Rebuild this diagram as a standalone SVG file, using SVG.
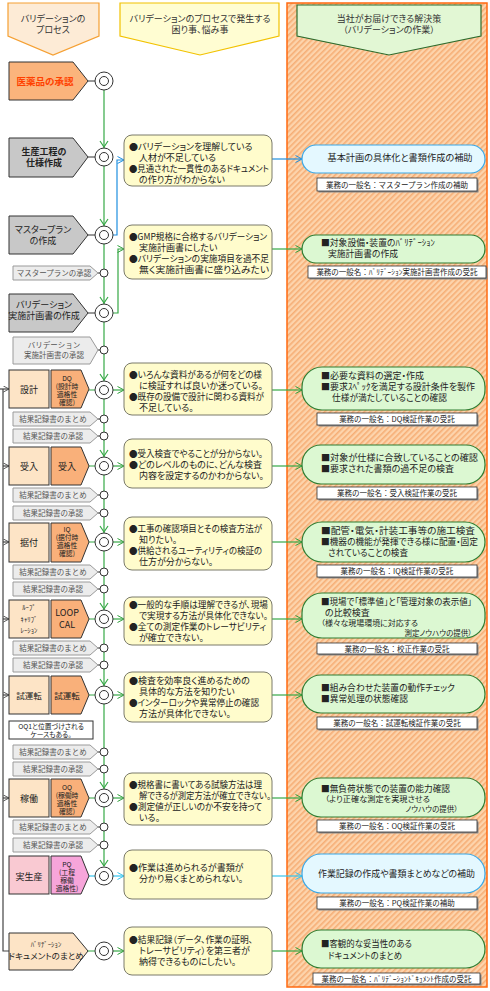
<svg xmlns="http://www.w3.org/2000/svg" width="490" height="991" viewBox="0 0 490 991">
<defs>
<pattern id="hatch" width="4" height="4" patternUnits="userSpaceOnUse" patternTransform="rotate(45)">
<rect width="4" height="4" fill="#fdd4ac"/>
<rect width="1.6" height="4" fill="#f6ae76"/>
</pattern>
<marker id="ag" viewBox="0 0 8 8" refX="7.5" refY="4" markerWidth="8" markerHeight="8" markerUnits="userSpaceOnUse" orient="auto"><path d="M1,0.5 L7.5,4 L1,7.5" fill="none" stroke="#2f9e3a" stroke-width="1"/></marker>
<marker id="ab" viewBox="0 0 8 8" refX="7.5" refY="4" markerWidth="8" markerHeight="8" markerUnits="userSpaceOnUse" orient="auto"><path d="M1,0.5 L7.5,4 L1,7.5" fill="none" stroke="#1e8fe0" stroke-width="1"/></marker>
<marker id="ac" viewBox="0 0 8 8" refX="7.5" refY="4" markerWidth="8" markerHeight="8" markerUnits="userSpaceOnUse" orient="auto"><path d="M1,0.5 L7.5,4 L1,7.5" fill="none" stroke="#33c4ee" stroke-width="1"/></marker>
<marker id="ak" viewBox="0 0 8 8" refX="7.5" refY="4" markerWidth="7" markerHeight="7" markerUnits="userSpaceOnUse" orient="auto"><path d="M1,0.5 L7.5,4 L1,7.5" fill="none" stroke="#444" stroke-width="1"/></marker>
</defs>
<style>
text{font-family:"Noto Sans CJK JP","Noto Sans CJK SC",sans-serif;fill:#222;}
.t{font-size:9px;font-feature-settings:"palt" 1;}
.h{font-size:9px;font-feature-settings:"palt" 1;text-anchor:middle;fill:#333}
.c{text-anchor:middle}
.n{font-size:9px;font-feature-settings:"palt" 1;text-anchor:middle}
.q{font-size:6.8px;font-feature-settings:"palt" 1;text-anchor:middle}
.s{font-size:7.5px;fill:#555;text-anchor:middle}
.lb{font-size:7.5px;text-anchor:middle}
.sm{font-size:7.5px;font-feature-settings:"palt" 1}
.pn{stroke:#333;stroke-width:1}
.gray{fill:#c8c8c8}
.peach{fill:#fde4c6}
.orange{fill:#f9b07a}
.appr{fill:#ececec;stroke:#9a9a9a;stroke-width:1}
.yb{fill:#fffccc;stroke:#7a7a6a;stroke-width:1}
.gs{fill:#dcf8d2;stroke:#2e7d32;stroke-width:1.2}
.bs{fill:#e4f8ff;stroke:#3aa8e8;stroke-width:1.2}
.lab{fill:#fff;stroke:#333;stroke-width:0.8}
.shd{fill:#8a8a8a}
.ring{fill:#fff;stroke:#333;stroke-width:1}
.in{fill:none;stroke:#333;stroke-width:1}
.gl{fill:none;stroke:#35a845;stroke-width:1.2}
.bl{fill:none;stroke:#1e8fe0;stroke-width:1.2}
.cl{fill:none;stroke:#33c4ee;stroke-width:1.2}
.dl{fill:none;stroke:#333;stroke-width:1}
.kl{fill:none;stroke:#444;stroke-width:1.2}
</style>

<rect id="panel" x="287" y="3" width="200" height="984" fill="url(#hatch)" stroke="#ff6a10" stroke-width="1.5"/>

<g id="hdr-process">
<polygon points="8,3 99,3 99,36 53,55 8,36" fill="#fdebd6" stroke="#f5a033" stroke-width="1.2"/>
<text class="h" x="53" y="22">バリデーションの</text>
<text class="h" x="53" y="33">プロセス</text>
</g>
<g id="hdr-problems">
<polygon points="120,3 279,3 279,36 200,55 120,36" fill="#fffdd2" stroke="#f2c200" stroke-width="1.2"/>
<text class="h" x="200" y="22">バリデーションのプロセスで発生する</text>
<text class="h" x="200" y="33">困り事、悩み事</text>
</g>
<g id="hdr-solutions">
<polygon points="297,5 481,5 481,36 389,55 297,36" fill="#e2f7d4" stroke="#2d6b2d" stroke-width="1.2"/>
<text class="h" x="389" y="21.5">当社がお届けできる解決策</text>
<text class="h" x="389" y="32.5">（バリデーションの作業）</text>
</g>

<g id="connectors">
<path class="gl" d="M104,90 V866"/>
<g class="gl">
<polyline points="100,141 104,147 108,141"/>
<polyline points="100,219 104,225 108,219"/>
<polyline points="100,297 104,303 108,297"/>
<polyline points="100,374 104,380 108,374"/>
<polyline points="100,450 104,456 108,450"/>
<polyline points="100,526 104,532 108,526"/>
<polyline points="100,603 104,609 108,603"/>
<polyline points="100,679 104,685 108,679"/>
<polyline points="100,782 104,788 108,782"/>
<polyline points="100,860 104,866 108,860"/>
</g>
<path class="dl" d="M88,81 H95 M88,157 H95 M88,235 H95 M88,313 H95"/>
<path class="gl" d="M89,390 H95 M89,466 H95 M89,542 H95 M89,619 H95 M89,695 H95 M89,798 H95 M88,951 H95"/>
<path class="cl" d="M89,876 H95"/>
<path class="dl" d="M98,273 H100 M98,350 H100 M98,419 H100 M98,436 H100 M98,495 H100 M98,513 H100 M98,572 H100 M98,589 H100 M98,648 H100 M98,665 H100 M98,752 H100 M98,769 H100 M98,827 H100 M98,845 H100"/>
<path class="bl" d="M113,235 H117 V160 H124" marker-end="url(#ab)"/>
<path class="gl" d="M113,313 H118 V249 H124" marker-end="url(#ag)"/>
<path class="gl" d="M113,390 H124" marker-end="url(#ag)"/>
<path class="gl" d="M113,466 H124" marker-end="url(#ag)"/>
<path class="gl" d="M113,542 H124" marker-end="url(#ag)"/>
<path class="gl" d="M113,619 H124" marker-end="url(#ag)"/>
<path class="gl" d="M113,695 H124" marker-end="url(#ag)"/>
<path class="gl" d="M113,798 H124" marker-end="url(#ag)"/>
<path class="cl" d="M113,876 H124" marker-end="url(#ac)"/>
<path class="gl" d="M113,951 H124" marker-end="url(#ag)"/>
<path class="bl" d="M272,159 H302" marker-end="url(#ab)"/>
<path class="gl" d="M272,249 H302" marker-end="url(#ag)"/>
<path class="gl" d="M272,390 H302" marker-end="url(#ag)"/>
<path class="gl" d="M272,466 H302" marker-end="url(#ag)"/>
<path class="gl" d="M272,542 H302" marker-end="url(#ag)"/>
<path class="gl" d="M272,619 H302" marker-end="url(#ag)"/>
<path class="gl" d="M272,695 H302" marker-end="url(#ag)"/>
<path class="gl" d="M272,798 H302" marker-end="url(#ag)"/>
<path class="cl" d="M272,876 H302" marker-end="url(#ac)"/>
<path class="gl" d="M272,951 H302" marker-end="url(#ag)"/>
<path class="kl" d="M3,389 V951 H9"/>
<path class="kl" d="M0,389 H9" marker-end="url(#ak)"/>
<path class="kl" d="M3,466 H9" marker-end="url(#ak)"/>
<path class="kl" d="M3,542 H9" marker-end="url(#ak)"/>
<path class="kl" d="M3,619 H9" marker-end="url(#ak)"/>
<path class="kl" d="M3,695 H9" marker-end="url(#ak)"/>
<path class="kl" d="M3,798 H9" marker-end="url(#ak)"/>
</g>

<g id="n-approval">
<polygon class="pn" points="9,62 73,62 88,81 73,100 9,100" fill="#fbb47c"/>
<text x="45" y="84.5" class="n" style="fill:#ff4000;font-weight:700;font-size:9.5px">医薬品の承認</text>
<circle class="ring" cx="104" cy="81" r="9"/><circle class="in" cx="104" cy="81" r="4.5"/>
</g>
<g id="n-spec">
<polygon class="pn gray" points="9,138 73,138 88,157 73,177 9,177"/>
<text x="44" y="155" class="n" style="font-weight:700">生産工程の</text>
<text x="44" y="166" class="n" style="font-weight:700">仕様作成</text>
<circle class="ring" cx="104" cy="157" r="9"/><circle class="in" cx="104" cy="157" r="4.5"/>
</g>
<g id="n-master">
<polygon class="pn gray" points="9,216 73,216 88,235 73,254 9,254"/>
<text x="43" y="233" class="n">マスタープラン</text>
<text x="43" y="244" class="n">の作成</text>
<circle class="ring" cx="104" cy="235" r="9"/><circle class="in" cx="104" cy="235" r="4.5"/>
</g>
<g id="n-master-ok">
<polygon class="appr" points="13,266 90,266 98,273 90,280 13,280"/>
<text x="54" y="276" class="s">マスタープランの承認</text>
<circle class="ring" cx="104" cy="273" r="4"/>
</g>
<g id="n-vplan">
<polygon class="pn gray" points="9,294 73,294 88,313 73,332 9,332"/>
<text x="44" y="307.5" class="n">バリデーション</text>
<text x="44" y="318.5" class="n">実施計画書の作成</text>
<circle class="ring" cx="104" cy="313" r="9"/><circle class="in" cx="104" cy="313" r="4.5"/>
</g>
<g id="n-vplan-ok">
<polygon class="appr" points="13,337 90,337 98,350 90,364 13,364"/>
<text x="54" y="348" class="s">バリデーション</text>
<text x="54" y="358" class="s">実施計画書の承認</text>
<circle class="ring" cx="104" cy="350" r="4"/>
</g>

<g id="n-dq">
<rect class="pn peach" x="9" y="370" width="40" height="38"/>
<text x="29" y="393" class="n">設計</text>
<polygon class="pn orange" points="51,370 81,370 89,389 81,408 51,408"/>
<text x="67" y="380.5" class="q">DQ</text>
<text x="67" y="388.5" class="q">(設計時</text>
<text x="67" y="396.5" class="q">適格性</text>
<text x="67" y="404.5" class="q">確認)</text>
<circle class="ring" cx="104" cy="390" r="9"/><circle class="in" cx="104" cy="390" r="4.5"/>
</g>
<g id="n-dq-sum"><polygon class="appr" points="13,412 90,412 98,419 90,426 13,426"/><text x="53" y="422" class="s">結果記録書のまとめ</text><circle class="ring" cx="104" cy="419" r="4"/></g>
<g id="n-dq-ok"><polygon class="appr" points="13,429 90,429 98,436 90,443 13,443"/><text x="53" y="439" class="s">結果記録書の承認</text><circle class="ring" cx="104" cy="436" r="4"/></g>

<g id="n-rcv">
<rect class="pn peach" x="9" y="447" width="40" height="38"/>
<text x="29" y="469.5" class="n">受入</text>
<polygon class="pn orange" points="51,447 81,447 89,466 81,485 51,485"/>
<text x="67" y="469.5" class="n">受入</text>
<circle class="ring" cx="104" cy="466" r="9"/><circle class="in" cx="104" cy="466" r="4.5"/>
</g>
<g id="n-rcv-sum"><polygon class="appr" points="13,488 90,488 98,495 90,502 13,502"/><text x="53" y="498" class="s">結果記録書のまとめ</text><circle class="ring" cx="104" cy="495" r="4"/></g>
<g id="n-rcv-ok"><polygon class="appr" points="13,506 90,506 98,513 90,520 13,520"/><text x="53" y="516" class="s">結果記録書の承認</text><circle class="ring" cx="104" cy="513" r="4"/></g>

<g id="n-iq">
<rect class="pn peach" x="9" y="523" width="40" height="39"/>
<text x="29" y="546" class="n">据付</text>
<polygon class="pn orange" points="51,523 81,523 89,542 81,562 51,562"/>
<text x="67" y="531.5" class="q">IQ</text>
<text x="67" y="539.5" class="q">(据付時</text>
<text x="67" y="547.5" class="q">適格性</text>
<text x="67" y="555.5" class="q">確認)</text>
<circle class="ring" cx="104" cy="542" r="9"/><circle class="in" cx="104" cy="542" r="4.5"/>
</g>
<g id="n-iq-sum"><polygon class="appr" points="13,565 90,565 98,572 90,579 13,579"/><text x="53" y="575" class="s">結果記録書のまとめ</text><circle class="ring" cx="104" cy="572" r="4"/></g>
<g id="n-iq-ok"><polygon class="appr" points="13,582 90,582 98,589 90,596 13,596"/><text x="53" y="592" class="s">結果記録書の承認</text><circle class="ring" cx="104" cy="589" r="4"/></g>

<g id="n-loop">
<rect class="pn peach" x="9" y="600" width="40" height="38"/>
<text x="29" y="610" class="q">ﾙｰﾌﾟ</text>
<text x="29" y="621.5" class="q">ｷｬﾘﾌﾞ</text>
<text x="29" y="633" class="q">ﾚｰｼｮﾝ</text>
<polygon class="pn orange" points="51,600 81,600 89,619 81,638 51,638"/>
<text x="67" y="616" class="n">LOOP</text>
<text x="67" y="627.5" class="n">CAL</text>
<circle class="ring" cx="104" cy="619" r="9"/><circle class="in" cx="104" cy="619" r="4.5"/>
</g>
<g id="n-loop-sum"><polygon class="appr" points="13,641 90,641 98,648 90,655 13,655"/><text x="53" y="651" class="s">結果記録書のまとめ</text><circle class="ring" cx="104" cy="648" r="4"/></g>
<g id="n-loop-ok"><polygon class="appr" points="13,658 90,658 98,665 90,672 13,672"/><text x="53" y="668" class="s">結果記録書の承認</text><circle class="ring" cx="104" cy="665" r="4"/></g>

<g id="n-trial">
<rect class="pn peach" x="9" y="676" width="40" height="38"/>
<text x="29" y="698.5" class="n" style="font-size:8.5px">試運転</text>
<polygon class="pn orange" points="51,676 81,676 89,695 81,714 51,714"/>
<text x="67" y="698.5" class="n" style="font-size:8.5px">試運転</text>
<circle class="ring" cx="104" cy="695" r="9"/><circle class="in" cx="104" cy="695" r="4.5"/>
</g>
<g id="n-oq1note">
<rect x="9" y="721" width="84" height="18" fill="#fff" stroke="#333" stroke-width="1"/>
<text x="51" y="729" class="q">OQ1と位置づけされる</text>
<text x="51" y="737" class="q">ケースもある。</text>
</g>
<g id="n-trial-sum"><polygon class="appr" points="13,745 90,745 98,752 90,759 13,759"/><text x="53" y="755" class="s">結果記録書のまとめ</text><circle class="ring" cx="104" cy="752" r="4"/></g>
<g id="n-trial-ok"><polygon class="appr" points="13,762 90,762 98,769 90,776 13,776"/><text x="53" y="772" class="s">結果記録書の承認</text><circle class="ring" cx="104" cy="769" r="4"/></g>

<g id="n-oq">
<rect class="pn peach" x="9" y="779" width="40" height="38"/>
<text x="29" y="801.5" class="n">稼働</text>
<polygon class="pn orange" points="51,779 81,779 89,798 81,817 51,817"/>
<text x="67" y="789.5" class="q">OQ</text>
<text x="67" y="797.5" class="q">(稼働時</text>
<text x="67" y="805.5" class="q">適格性</text>
<text x="67" y="813.5" class="q">確認)</text>
<circle class="ring" cx="104" cy="798" r="9"/><circle class="in" cx="104" cy="798" r="4.5"/>
</g>
<g id="n-oq-sum"><polygon class="appr" points="13,820 90,820 98,827 90,834 13,834"/><text x="53" y="830" class="s">結果記録書のまとめ</text><circle class="ring" cx="104" cy="827" r="4"/></g>
<g id="n-oq-ok"><polygon class="appr" points="13,838 90,838 98,845 90,852 13,852"/><text x="53" y="848" class="s">結果記録書の承認</text><circle class="ring" cx="104" cy="845" r="4"/></g>

<g id="n-pq">
<rect class="pn" x="9" y="856" width="40" height="38" fill="#f9c9d2"/>
<text x="29" y="879.5" class="n">実生産</text>
<polygon class="pn" points="51,856 81,856 89,876 81,894 51,894" fill="#f7a5da"/>
<text x="67" y="866.5" class="q">PQ</text>
<text x="67" y="874.5" class="q">(工程</text>
<text x="67" y="882.5" class="q">稼働</text>
<text x="67" y="890.5" class="q">適格性)</text>
<circle class="ring" cx="104" cy="876" r="9"/><circle class="in" cx="104" cy="876" r="4.5"/>
</g>

<g id="n-vdoc">
<polygon class="pn peach" points="9,933 73,933 88,951 73,970 9,970"/>
<text x="46" y="947" class="q">ﾊﾞﾘﾃﾞｰｼｮﾝ</text>
<text x="46" y="959" class="n" style="font-size:8.5px">ドキュメントのまとめ</text>
<circle class="ring" cx="104" cy="951" r="9"/><circle class="in" cx="104" cy="951" r="4.5"/>
</g>

<g id="p-master">
<rect class="yb" x="124" y="135" width="148" height="51" rx="8"/>
<text class="t" x="129" y="149.5">●バリデーションを理解している</text>
<text class="t" x="139" y="160.5">人材が不足している</text>
<text class="t" x="129" y="171.5" textLength="140" lengthAdjust="spacingAndGlyphs">●見通された一貫性のあるドキュメント</text>
<text class="t" x="139" y="182.5">の作り方がわからない</text>
</g>
<g id="p-vplan">
<rect class="yb" x="124" y="225" width="148" height="54" rx="8"/>
<text class="t" x="129" y="240" textLength="138" lengthAdjust="spacingAndGlyphs">●GMP規格に合格するバリデーション</text>
<text class="t" x="139" y="251">実施計画書にしたい</text>
<text class="t" x="129" y="262" textLength="140" lengthAdjust="spacingAndGlyphs">●バリデーションの実施項目を過不足</text>
<text class="t" x="139" y="273" textLength="130" lengthAdjust="spacingAndGlyphs">無く実施計画書に盛り込みたい</text>
</g>
<g id="p-dq">
<rect class="yb" x="124" y="363" width="148" height="52" rx="8"/>
<text class="t" x="129" y="378" textLength="133" lengthAdjust="spacingAndGlyphs">●いろんな資料があるが何をどの様</text>
<text class="t" x="139" y="389" textLength="124" lengthAdjust="spacingAndGlyphs">に検証すれば良いか迷っている。</text>
<text class="t" x="129" y="400" textLength="135" lengthAdjust="spacingAndGlyphs">●既存の設備で設計に関わる資料が</text>
<text class="t" x="139" y="411">不足している。</text>
</g>
<g id="p-rcv">
<rect class="yb" x="124" y="439" width="148" height="49" rx="8"/>
<text class="t" x="129" y="456.5" textLength="134" lengthAdjust="spacingAndGlyphs">●受入検査でやることが分からない。</text>
<text class="t" x="129" y="467.5" textLength="133" lengthAdjust="spacingAndGlyphs">●どのレベルのものに、どんな検査</text>
<text class="t" x="139" y="478.5" textLength="125" lengthAdjust="spacingAndGlyphs">内容を設定するのかわからない。</text>
</g>
<g id="p-iq">
<rect class="yb" x="124" y="517" width="148" height="53" rx="8"/>
<text class="t" x="129" y="531.5" textLength="133" lengthAdjust="spacingAndGlyphs">●工事の確認項目とその検査方法が</text>
<text class="t" x="139" y="542.5">知りたい。</text>
<text class="t" x="129" y="553.5" textLength="133" lengthAdjust="spacingAndGlyphs">●供給されるユーティリティの検証の</text>
<text class="t" x="139" y="564.5">仕方が分からない。</text>
</g>
<g id="p-loop">
<rect class="yb" x="124" y="597" width="148" height="48" rx="8"/>
<text class="t" x="129" y="607.5" textLength="139" lengthAdjust="spacingAndGlyphs">●一般的な手順は理解できるが、現場</text>
<text class="t" x="139" y="618.5" textLength="129" lengthAdjust="spacingAndGlyphs">で実現する方法が具体化できない。</text>
<text class="t" x="129" y="629.5" textLength="137" lengthAdjust="spacingAndGlyphs">●全ての測定作業のトレーサビリティ</text>
<text class="t" x="139" y="640.5">が確立できない。</text>
</g>
<g id="p-trial">
<rect class="yb" x="124" y="672" width="148" height="50" rx="8"/>
<text class="t" x="129" y="683.5">●検査を効率良く進めるための</text>
<text class="t" x="139" y="694.5">具体的な方法を知りたい</text>
<text class="t" x="129" y="705.5" textLength="130" lengthAdjust="spacingAndGlyphs">●インターロックや異常停止の確認</text>
<text class="t" x="139" y="716.5">方法が具体化できない。</text>
</g>
<g id="p-oq">
<rect class="yb" x="124" y="773" width="148" height="52" rx="8"/>
<text class="t" x="129" y="787.5" textLength="133" lengthAdjust="spacingAndGlyphs">●規格書に書いてある試験方法は理</text>
<text class="t" x="139" y="798.5" textLength="132" lengthAdjust="spacingAndGlyphs">解できるが測定方法が確立できない。</text>
<text class="t" x="129" y="809.5" textLength="133" lengthAdjust="spacingAndGlyphs">●測定値が正しいのか不安を持って</text>
<text class="t" x="139" y="820.5">いる。</text>
</g>
<g id="p-pq">
<rect class="yb" x="124" y="850" width="148" height="49" rx="8"/>
<text class="t" x="129" y="870.5">●作業は進められるが書類が</text>
<text class="t" x="139" y="881.5">分かり易くまとめられない。</text>
</g>
<g id="p-vdoc">
<rect class="yb" x="124" y="927" width="148" height="48" rx="8"/>
<text class="t" x="129" y="942.5" textLength="124" lengthAdjust="spacingAndGlyphs">●結果記録（データ、作業の証明、</text>
<text class="t" x="139" y="953.5">トレーサビリティ）を第三者が</text>
<text class="t" x="139" y="964.5">納得できるものにしたい。</text>
</g>

<g id="s-master">
<rect class="bs" x="302" y="145" width="183" height="28" rx="14"/>
<text class="t c" x="400" y="160.5" textLength="145" lengthAdjust="spacingAndGlyphs">基本計画の具体化と書類作成の補助</text>
<rect class="shd" x="318.5" y="179.5" width="160" height="13"/>
<rect class="lab" x="317" y="178" width="160" height="13"/>
<text class="lb" x="397" y="187.5">業務の一般名：マスタープラン作成の補助</text>
</g>
<g id="s-vplan">
<rect class="gs" x="302" y="235" width="183" height="28" rx="14"/>
<text class="t" x="321" y="245.5" textLength="114" lengthAdjust="spacingAndGlyphs">■対象設備・装置のﾊﾞﾘﾃﾞｰｼｮﾝ</text>
<text class="t" x="328" y="256.5" textLength="70" lengthAdjust="spacingAndGlyphs">実施計画書の作成</text>
<rect class="shd" x="309.5" y="267.5" width="178" height="12"/>
<rect class="lab" x="308" y="266" width="178" height="12"/>
<text class="lb" x="397" y="275">業務の一般名：ﾊﾞﾘﾃﾞｰｼｮﾝ実施計画書作成の受託</text>
</g>
<g id="s-dq">
<rect class="gs" x="302" y="367" width="183" height="43" rx="20"/>
<text class="t" x="321" y="379">■必要な資料の選定・作成</text>
<text class="t" x="321" y="390" textLength="154" lengthAdjust="spacingAndGlyphs">■要求ｽﾍﾟｯｸを満足する設計条件を製作</text>
<text class="t" x="332" y="401" textLength="115" lengthAdjust="spacingAndGlyphs">仕様が満たしていることの確認</text>
<rect class="shd" x="318.5" y="414.5" width="160" height="12"/>
<rect class="lab" x="317" y="413" width="160" height="12"/>
<text class="lb" x="397" y="422">業務の一般名：DQ検証作業の受託</text>
</g>
<g id="s-rcv">
<rect class="gs" x="302" y="445" width="183" height="39" rx="19"/>
<text class="t" x="321" y="460.5" textLength="157" lengthAdjust="spacingAndGlyphs">■対象が仕様に合致していることの確認</text>
<text class="t" x="321" y="471.5">■要求された書類の過不足の検査</text>
<rect class="shd" x="318.5" y="488.5" width="160" height="12"/>
<rect class="lab" x="317" y="487" width="160" height="12"/>
<text class="lb" x="397" y="496">業務の一般名：受入検証作業の受託</text>
</g>
<g id="s-iq">
<rect class="gs" x="302" y="522" width="183" height="40" rx="20"/>
<text class="t" x="321" y="534" textLength="154" lengthAdjust="spacingAndGlyphs">■配管・電気・計装工事等の施工検査</text>
<text class="t" x="321" y="545" textLength="157" lengthAdjust="spacingAndGlyphs">■機器の機能が発揮できる様に配置・固定</text>
<text class="t" x="328" y="556" textLength="80" lengthAdjust="spacingAndGlyphs">されていることの検査</text>
<rect class="shd" x="318.5" y="566.5" width="160" height="12"/>
<rect class="lab" x="317" y="565" width="160" height="12"/>
<text class="lb" x="397" y="574">業務の一般名：IQ検証作業の受託</text>
</g>
<g id="s-loop">
<rect class="gs" x="302" y="593" width="183" height="45" rx="20"/>
<text class="t" x="321" y="604.5" textLength="151" lengthAdjust="spacingAndGlyphs">■現場で「標準値」と「管理対象の表示値」</text>
<text class="t" x="325" y="615.5">の比較検査</text>
<text class="sm" x="321" y="626" textLength="97" lengthAdjust="spacingAndGlyphs">（様々な現場環境に対応する</text>
<text class="sm" x="472" y="636" style="text-anchor:end">測定ノウハウの提供）</text>
<rect class="shd" x="318.5" y="644.5" width="160" height="11"/>
<rect class="lab" x="317" y="643" width="160" height="11"/>
<text class="lb" x="397" y="651.5">業務の一般名：校正作業の受託</text>
</g>
<g id="s-trial">
<rect class="gs" x="302" y="675" width="183" height="38" rx="19"/>
<text class="t" x="321" y="690.5" textLength="134" lengthAdjust="spacingAndGlyphs">■組み合わせた装置の動作チェック</text>
<text class="t" x="321" y="701.5" textLength="87" lengthAdjust="spacingAndGlyphs">■異常処理の状態確認</text>
<rect class="shd" x="318.5" y="718.5" width="160" height="12"/>
<rect class="lab" x="317" y="717" width="160" height="12"/>
<text class="lb" x="397" y="726">業務の一般名：試運転検証作業の受託</text>
</g>
<g id="s-oq">
<rect class="gs" x="302" y="778" width="183" height="39" rx="19"/>
<text class="t" x="321" y="791.5" textLength="129" lengthAdjust="spacingAndGlyphs">■無負荷状態での装置の能力確認</text>
<text class="sm" x="325" y="801.5" textLength="105" lengthAdjust="spacingAndGlyphs">（より正確な測定を実現させる</text>
<text class="sm" x="458" y="811.5" style="text-anchor:end">ノウハウの提供）</text>
<rect class="shd" x="318.5" y="821.5" width="160" height="12"/>
<rect class="lab" x="317" y="820" width="160" height="12"/>
<text class="lb" x="397" y="829">業務の一般名：OQ検証作業の受託</text>
</g>
<g id="s-pq">
<rect class="bs" x="302" y="854" width="183" height="39" rx="19"/>
<text class="t c" x="396.5" y="876.5" textLength="157" lengthAdjust="spacingAndGlyphs">作業記録の作成や書類まとめなどの補助</text>
<rect class="shd" x="318.5" y="898.5" width="160" height="12"/>
<rect class="lab" x="317" y="897" width="160" height="12"/>
<text class="lb" x="397" y="906">業務の一般名：PQ検証作業の補助</text>
</g>
<g id="s-vdoc">
<rect class="gs" x="302" y="930" width="183" height="38" rx="19"/>
<text class="t" x="321" y="946.5" textLength="91" lengthAdjust="spacingAndGlyphs">■客観的な妥当性のある</text>
<text class="t" x="328" y="958.5" textLength="74" lengthAdjust="spacingAndGlyphs">ドキュメントのまとめ</text>
<rect class="shd" x="314.5" y="974.5" width="167" height="11"/>
<rect class="lab" x="313" y="973" width="167" height="11"/>
<text class="lb" x="396.5" y="981.5">業務の一般名：ﾊﾞﾘﾃﾞｰｼｮﾝﾄﾞｷｭﾒﾝﾄ作成の受託</text>
</g>
</svg>
